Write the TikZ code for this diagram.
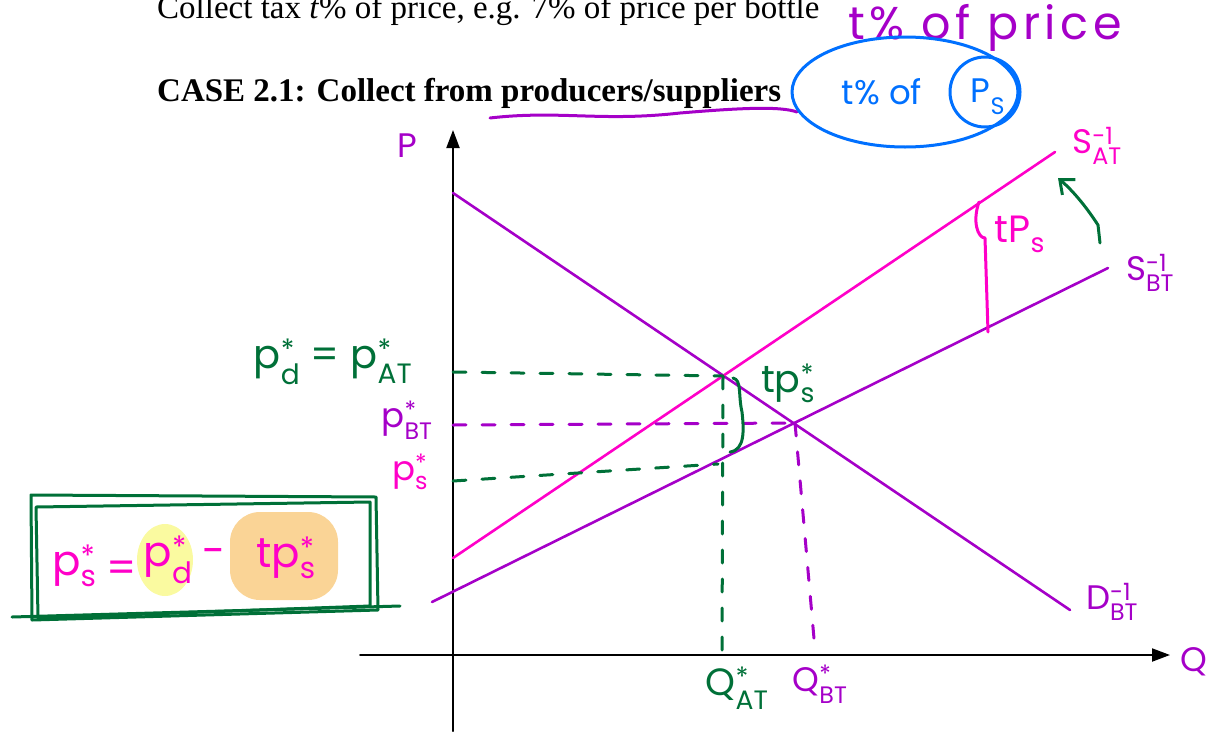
\documentclass[tikz,border=0pt]{standalone}
\usepackage{fontspec}
\usepackage{amsmath}
\setmainfont{Liberation Serif}
\newfontfamily\hand{Poppins}
\usetikzlibrary{arrows.meta,shapes.geometric}
\definecolor{hgreen}{RGB}{0,112,56}
\definecolor{hpurple}{RGB}{165,0,200}
\definecolor{hmag}{RGB}{255,0,200}
\definecolor{hblue}{RGB}{0,112,255}
\definecolor{hyellow}{RGB}{250,250,160}
\definecolor{horange}{RGB}{250,212,150}
\newcommand\hl[3]{#1$^{\text{#2}}_{\text{#3}}$}
\tikzset{
  axis/.style={line width=2pt,black},
  curve/.style={line width=2.6pt},
  pen/.style={line width=3pt},
  dsh/.style={line width=3pt,dash pattern=on 13pt off 16pt},
  hw/.style={font=\hand\fontsize{34}{40}\selectfont,inner sep=0pt},
  hwbig/.style={font=\hand\fontsize{42}{46}\selectfont,inner sep=0pt},
  typed/.style={font=\fontsize{33}{38}\selectfont,inner sep=0pt,anchor=base west}
}
\begin{document}
\begin{tikzpicture}[x=1pt,y=-1pt,line cap=round,line join=round]
\useasboundingbox (0,0) rectangle (1209,731);
% typed text
\node[typed] (t1) at (157,18) {Collect tax \textit{t}\% of price, e.g. 7\% of price per bottle};
\node[typed,font=\bfseries\fontsize{33}{38}\selectfont] (t2) at (157,101) {CASE 2.1: Collect from producers/suppliers};
% handwritten top annotations
\node[hw,text=hpurple,anchor=west,font=\hand\addfontfeature{LetterSpace=10}\fontsize{46}{48}\selectfont] (tp) at (848,28) {t\% of price};
\draw[pen,hpurple] (490,118) .. controls (560,110) and (600,122) .. (680,113) .. controls (740,108) and (780,106) .. (797,112);
\node[draw=hblue,line width=3pt,ellipse,minimum width=226pt,minimum height=110pt] (ell) at (905,92) {};
\node[draw=hblue,line width=3pt,circle,minimum size=70pt] (circ) at (985,92) {};
\node[hw,text=hblue] (tof) at (882,92) {t\% of};
\node[hw,text=hblue] (ps) at (988,97) {\hl{P}{}{S}};
% axes
\draw[axis,-{Triangle[length=18pt,width=13pt]}] (453,731) -- (453,130);
\draw[axis,-{Triangle[length=18pt,width=13pt]}] (360,655) -- (1170,655);
\node[hw,text=hpurple] (P) at (407,146) {P};
\node[hw,text=hpurple,anchor=west] (Q) at (1180,662) {Q};
% curves
\coordinate (D0) at (453,193); \coordinate (D1) at (1070,610);
\coordinate (SB0) at (432,602); \coordinate (SB1) at (1108,268);
\coordinate (SA0) at (453,558); \coordinate (SA1) at (1055,152);
\coordinate (E1) at (723,376); \coordinate (E0) at (795,423);
\draw[curve,hpurple] (D0) -- (D1);
\draw[curve,hpurple] (SB0) -- (SB1);
\draw[curve,hmag] (SA0) -- (SA1);
% dashed guides
\coordinate (yA) at (453,372); \coordinate (yB) at (453,425); \coordinate (yS) at (453,481);
\coordinate (sS) at (718,464); \coordinate (qA) at (722,650); \coordinate (qB) at (815,650);
\draw[dsh,hgreen] (yA) -- (E1);
\draw[dsh,hpurple] (yB) -- (E0);
\draw[dsh,hgreen] (yS) -- (sS);
\draw[dsh,hgreen] (E1) -- (qA);
\draw[dsh,hpurple] (E0) -- (qB);
% labels for curves
\node[hw,text=hmag] (SA) at (1097,146) {S$^{\text{-1}}_{\text{AT}}$};
\node[hw,text=hpurple] (SB) at (1150,273) {S$^{\text{-1}}_{\text{BT}}$};
\node[hw,text=hpurple] (DB) at (1112,602) {D$^{\text{-1}}_{\text{BT}}$};
% tP_s bracket
\coordinate (b0) at (979,202); \coordinate (b1) at (988,332);
\draw[pen,hmag] (b0) .. controls (972,222) and (978,238) .. (985,238) -- (b1);
\node[hw,text=hmag,font=\hand\fontsize{38}{40}\selectfont] (tps) at (1020,234) {t\hl{P}{}{s}};
\coordinate (a0) at (1100,243); \coordinate (a1) at (1058,178);
\draw[pen,hgreen,-{Straight Barb[length=12pt,width=20pt]}] (a0) -- (1098,225) .. controls (1085,205) and (1072,190) .. (a1);
% left labels
\node[hw,text=hgreen,font=\hand\fontsize{40}{44}\selectfont] (pd) at (333,362) {\hl{p}{*}{d} = \hl{p}{*}{AT}};
\node[hw,text=hpurple] (pbt) at (407,420) {\hl{p}{*}{BT}};
\node[hw,text=hmag] (pss) at (410,472) {\hl{p}{*}{s}};
% brace and tp*_s
\coordinate (r0) at (733,378); \coordinate (r1) at (730,452);
\draw[pen,hgreen] (r0) .. controls (742,380) and (738,395) .. (742,412) .. controls (744,430) and (745,450) .. (r1);
\node[hw,text=hgreen,font=\hand\fontsize{38}{40}\selectfont] (tpss) at (788,383) {t\hl{p}{*}{s}};
% Q labels
\node[hw,text=hgreen,font=\hand\fontsize{38}{40}\selectfont] (QA) at (737,688) {\hl{Q}{*}{AT}};
\node[hw,text=hpurple] (QB) at (820,684) {\hl{Q}{*}{BT}};
% box with formula
\fill[hyellow] (165,560) ellipse (28pt and 36pt);
\fill[horange,rounded corners=30pt] (230,512) rectangle (338,600);
\draw[pen,hgreen] (31,495) -- (376,497) -- (378,610) -- (32,620) -- cycle;
\draw[pen,hgreen] (36,507) -- (370,502) -- (370,606) -- (38,618) -- cycle;
\draw[pen,hgreen] (12,617) -- (400,606);
\node[hwbig,text=hmag,anchor=west] (f1) at (52,566) {\hl{p}{*}{s}};
\node[hwbig,text=hmag] (eq) at (122,572) {=};
\node[hwbig,text=hmag] (f2) at (168,560) {\hl{p}{*}{d}};
\node[hwbig,text=hmag] (mi) at (214,557) {-};
\node[hwbig,text=hmag] (f3) at (286,558) {t\hl{p}{*}{s}};
\end{tikzpicture}
\end{document}
